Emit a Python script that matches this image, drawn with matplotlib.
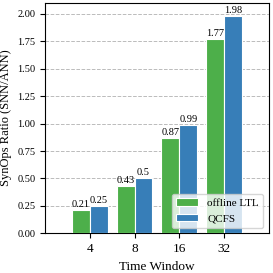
import numpy as np
import matplotlib.pyplot as plt

plt.rcParams['font.family'] = ['Liberation Serif', 'DejaVu Serif']

windows = ['4', '8', '16', '32']
ltl = [0.21, 0.43, 0.87, 1.77]
qcfs = [0.25, 0.5, 0.99, 1.98]
ltl_lbl = ['0.21', '0.43', '0.87', '1.77']
qcfs_lbl = ['0.25', '0.5', '0.99', '1.98']

x = np.arange(len(windows))
w = 0.4

fig, ax = plt.subplots(figsize=(2.73, 2.73), dpi=100)
b1 = ax.bar(x - w/2, ltl, w, color='#4daf4a', edgecolor='white', linewidth=0.8, label='offline LTL', zorder=3)
b2 = ax.bar(x + w/2, qcfs, w, color='#377eb8', edgecolor='white', linewidth=0.8, label='QCFS', zorder=3)

for bars, labels in [(b1, ltl_lbl), (b2, qcfs_lbl)]:
    for b, t in zip(bars, labels):
        ax.text(b.get_x() + b.get_width()/2, b.get_height() + 0.01, t,
                ha='center', va='bottom', fontsize=7.5, zorder=4)

ax.set_xticks(x)
ax.set_xticklabels(windows, fontsize=9.5)
ax.set_xlim(-1, 4)
ax.set_ylim(0, 2.1)
ax.set_yticks([0, 0.25, 0.5, 0.75, 1.0, 1.25, 1.5, 1.75, 2.0])
ax.tick_params(axis='y', labelsize=7.5)
ax.grid(axis='y', linestyle='--', color='#bbbbbb', linewidth=0.7, zorder=0)
ax.set_xlabel('Time Window', fontsize=9.5)
ax.set_ylabel('SynOps Ratio (SNN/ANN)', fontsize=9)
ax.legend(loc='lower right', fontsize=8, framealpha=0.8)

plt.subplots_adjust(left=0.165, right=0.985, top=0.99, bottom=0.145)
plt.savefig('out.png', dpi=100)
